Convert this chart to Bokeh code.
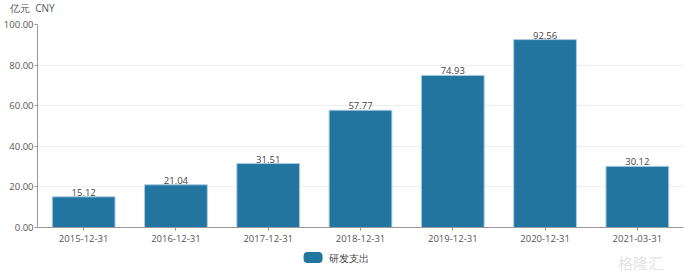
from bokeh.plotting import figure
from bokeh.layouts import column
from bokeh.models import ColumnDataSource, FixedTicker, NumeralTickFormatter, Range1d, Div
from bokeh.core.properties import value
from bokeh.embed import file_html
from bokeh.resources import INLINE

categories = ["2015-12-31", "2016-12-31", "2017-12-31", "2018-12-31", "2019-12-31", "2020-12-31", "2021-03-31"]
values = [15.12, 21.04, 31.51, 57.77, 74.93, 92.56, 30.12]
labels = ["15.12", "21.04", "31.51", "57.77", "74.93", "92.56", "30.12"]
series_name = "研发支出"
unit_title = "亿元  CNY"
y_ticks = [0, 20, 40, 60, 80, 100]

FONT = "Open Sans"
BAR = "#21759f"
W = 692
FL, FR = 36, 9  # frame left / right borders

# top: unit title as an HTML div
t = Div(text=unit_title, width=W, height=14, margin=0,
        styles={"font-family": FONT, "font-size": "10px", "color": "#555555",
                "line-height": "16px", "padding-left": "10px", "white-space": "pre",
                "box-sizing": "border-box"})

# main chart
src = ColumnDataSource(dict(x=categories, y=values, lab=labels))
p = figure(x_range=categories, y_range=(0, 100), width=W, height=236,
           output_backend="svg", toolbar_location=None,
           min_border_left=FL, min_border_right=FR, min_border_top=10, min_border_bottom=23)
p.outline_line_color = None
p.background_fill_color = "white"
p.border_fill_color = "white"

p.vbar(x="x", top="y", width=0.68, source=src, fill_color=BAR,
       line_color="#a9cbe0", line_width=1)
p.text(x="x", y="y", text="lab", source=src, text_align="center", text_baseline="bottom",
       text_font_size="9.5px", text_color="#444444", y_offset=-1, text_font=value(FONT))

p.yaxis.ticker = FixedTicker(ticks=y_ticks)
p.yaxis.formatter = NumeralTickFormatter(format="0.00")
for ax in (p.xaxis[0], p.yaxis[0]):
    ax.axis_line_color = "#999999"
    ax.major_tick_line_color = "#999999"
    ax.major_tick_in = 0
    ax.major_tick_out = 3
    ax.minor_tick_line_color = None
    ax.major_label_text_font_size = "9.5px"
    ax.major_label_text_color = "#555555"
    ax.major_label_text_font = FONT
p.yaxis.major_label_standoff = 1
p.xaxis.major_label_standoff = 4
p.xgrid.grid_line_color = None
p.ygrid.grid_line_color = "#eeeeee"

# bottom strip: legend + watermark (x range in page pixels over the frame)
q = figure(width=W, height=23, output_backend="svg", toolbar_location=None,
           x_range=Range1d(FL, W - FR), y_range=Range1d(0, 23),
           min_border_left=FL, min_border_right=FR, min_border_top=0, min_border_bottom=0)
q.axis.visible = False
q.grid.grid_line_color = None
q.outline_line_color = None
q.border_fill_color = "white"
q.quad(left=[303], right=[321], bottom=[11], top=[21], fill_color=BAR, line_color=BAR,
       border_radius=3)
q.text(x=[328], y=[16], text=[series_name], text_baseline="middle", text_align="left",
       text_font_size="10px", text_color="#444444", text_font=value(FONT))
q.text(x=[640], y=[11], text=["格隆汇"], text_baseline="middle", text_align="center",
       text_font_size="15px", text_color="#e4e4e4", text_font=value("Noto Sans CJK SC"))

layout = column(t, p, q, spacing=0)
open("out.html", "w").write(file_html(layout, INLINE))
